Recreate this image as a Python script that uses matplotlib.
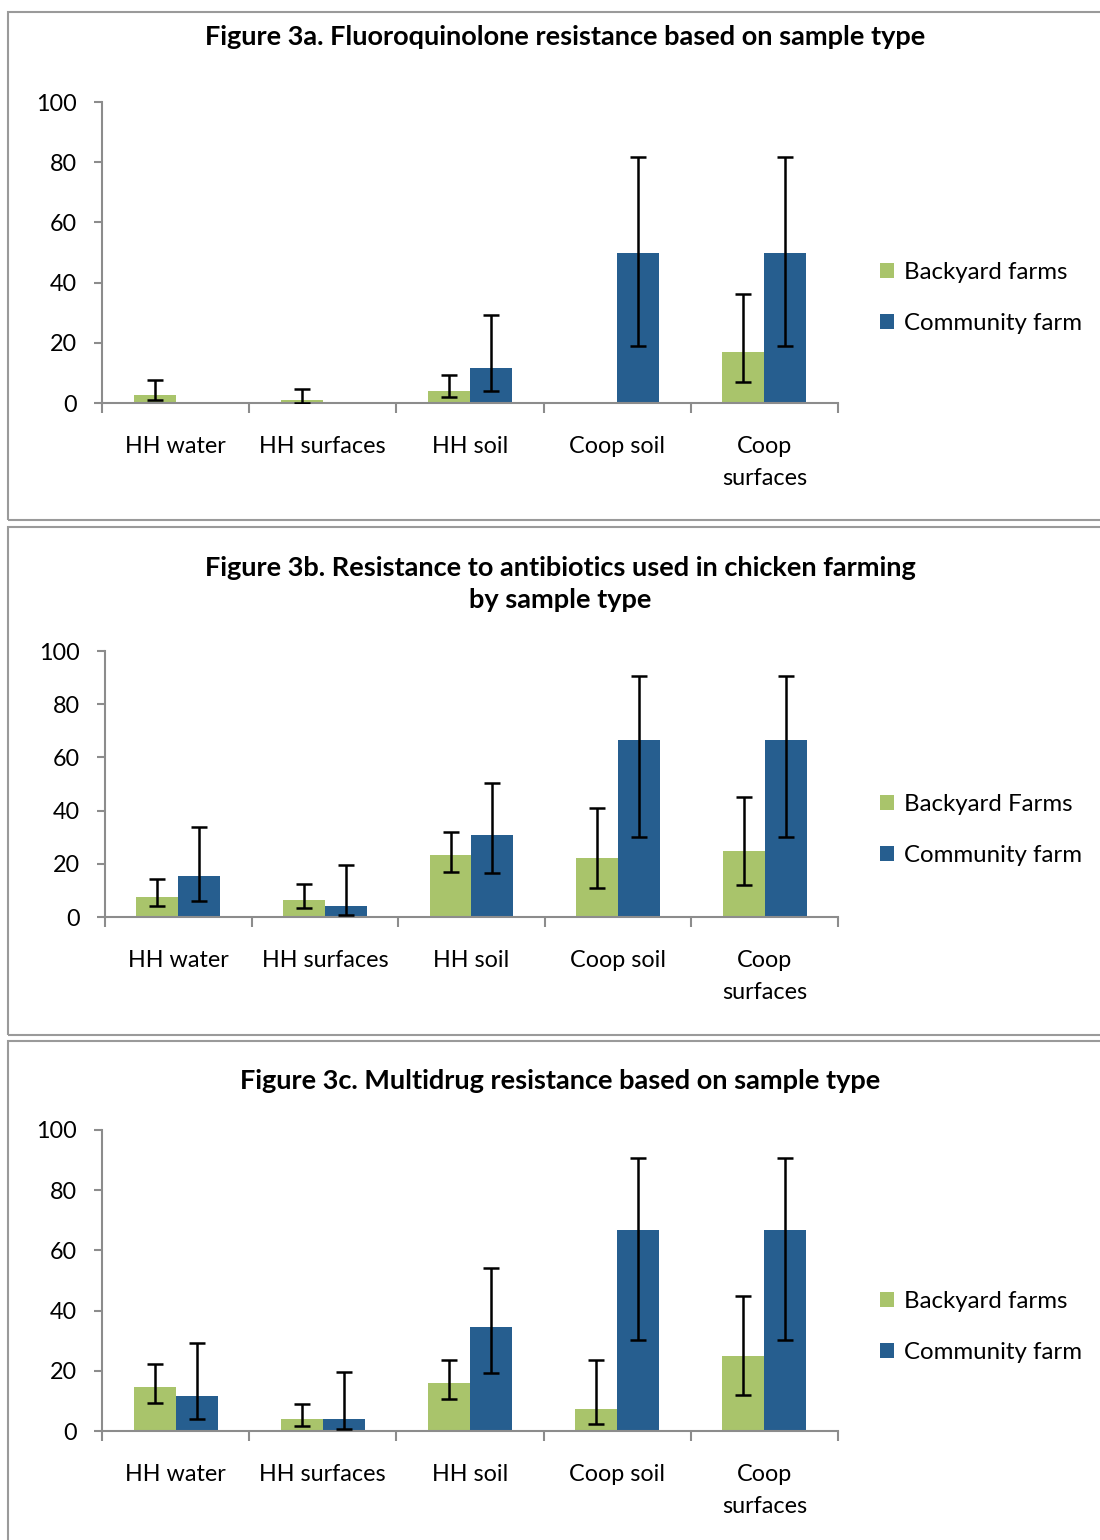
import numpy as np
import matplotlib
matplotlib.use("Agg")
import matplotlib.pyplot as plt
from matplotlib.patches import Rectangle

plt.rcParams['font.family'] = ['Lato', 'DejaVu Sans']

categories = ["HH water", "HH surfaces", "HH soil", "Coop soil", "Coop\nsurfaces"]

# Figure 3a - fluoroquinolone
a_backyard = [2.7, 0.9, 4.0, 0.0, 16.9]
a_backyard_lo = [1.0, 0.0, 1.9, np.nan, 7.0]
a_backyard_hi = [7.6, 4.6, 9.3, np.nan, 36.2]
a_community = [0.0, 0.0, 11.5, 50.0, 50.0]
a_community_lo = [np.nan, np.nan, 4.1, 18.9, 18.9]
a_community_hi = [np.nan, np.nan, 29.3, 81.6, 81.6]

# Figure 3b - chicken farming antibiotics
b_backyard = [7.6, 6.4, 23.3, 22.2, 24.8]
b_backyard_lo = [4.1, 3.3, 16.9, 10.9, 12.0]
b_backyard_hi = [14.3, 12.3, 31.8, 41.0, 45.1]
b_community = [15.4, 4.0, 30.8, 66.7, 66.7]
b_community_lo = [6.1, 0.8, 16.5, 30.0, 30.0]
b_community_hi = [33.7, 19.7, 50.3, 90.6, 90.6]

# Figure 3c - multidrug
c_backyard = [14.6, 3.9, 16.0, 7.3, 25.0]
c_backyard_lo = [9.3, 1.8, 10.7, 2.3, 12.0]
c_backyard_hi = [22.3, 9.1, 23.7, 23.6, 44.9]
c_community = [11.5, 3.9, 34.6, 66.7, 66.7]
c_community_lo = [4.0, 0.7, 19.4, 30.2, 30.2]
c_community_hi = [29.1, 19.6, 54.0, 90.7, 90.7]

green = "#A9C46B"
blue = "#265E8F"
grey = "#8C8C8C"

fig = plt.figure(figsize=(11, 15.4), dpi=100)

# panel border boxes (pixels, from top)
for top, bottom in [(12, 520), (527, 1035), (1041, 1545)]:
    fig.patches.append(Rectangle((8 / 1100, 1 - bottom / 1540), 1.2, (bottom - top) / 1540,
                                 transform=fig.transFigure, fill=False,
                                 edgecolor="#9A9A9A", linewidth=1.5))


def draw_panel(ax, by, by_lo, by_hi, cf, cf_lo, cf_hi, by_label):
    x = np.arange(len(categories))
    w = 0.286
    by = np.array(by)
    cf = np.array(cf)
    ax.bar(x - w / 2, by, w, color=green, label=by_label, zorder=2)
    ax.bar(x + w / 2, cf, w, color=blue, label="Community farm", zorder=2)
    for xs, vals, lo, hi in [(x - w / 2, by, by_lo, by_hi), (x + w / 2, cf, cf_lo, cf_hi)]:
        lo = np.array(lo)
        hi = np.array(hi)
        ok = ~np.isnan(lo)
        ax.errorbar(xs[ok], vals[ok], yerr=[vals[ok] - lo[ok], hi[ok] - vals[ok]],
                    fmt="none", ecolor="black", elinewidth=1.8, capsize=6, capthick=1.8, zorder=3)
    ax.set_xlim(-0.5, 4.5)
    ax.set_ylim(0, 100)
    ax.set_yticks(range(0, 101, 20))
    ax.set_xticks(x)
    ax.set_xticklabels(categories, fontsize=16.8, linespacing=1.6)
    ax.set_xticks(np.arange(-0.5, 5, 1), minor=True)
    ax.tick_params(axis="x", which="major", length=0, pad=24)
    ax.tick_params(axis="x", which="minor", length=7, width=1.5, color=grey)
    ax.tick_params(axis="y", length=6, width=1.5, color=grey, labelsize=16.8, pad=12)
    for s in ["top", "right"]:
        ax.spines[s].set_visible(False)
    for s in ["left", "bottom"]:
        ax.spines[s].set_color(grey)
        ax.spines[s].set_linewidth(1.5)


ax_a = fig.add_axes([102 / 1100, 1 - 403 / 1540, 736 / 1100, 301 / 1540])
draw_panel(ax_a, a_backyard, a_backyard_lo, a_backyard_hi,
           a_community, a_community_lo, a_community_hi, "Backyard farms")
ax_b = fig.add_axes([105 / 1100, 1 - 917 / 1540, 733 / 1100, 266 / 1540])
draw_panel(ax_b, b_backyard, b_backyard_lo, b_backyard_hi,
           b_community, b_community_lo, b_community_hi, "Backyard Farms")
ax_c = fig.add_axes([102 / 1100, 1 - 1431 / 1540, 736 / 1100, 301 / 1540])
draw_panel(ax_c, c_backyard, c_backyard_lo, c_backyard_hi,
           c_community, c_community_lo, c_community_hi, "Backyard farms")

for ax, ly in [(ax_a, 298), (ax_b, 830), (ax_c, 1327)]:
    ax.legend(loc="center left", bbox_to_anchor=(858 / 1100, 1 - ly / 1540),
              bbox_transform=fig.transFigure, frameon=False, fontsize=17.3,
              handlelength=0.6, handleheight=0.6, handletextpad=0.4, labelspacing=1.25)

fig.text(565 / 1100, 1 - 37 / 1540, "Figure 3a. Fluoroquinolone resistance based on sample type",
         ha="center", va="center", fontsize=19.5, fontweight="bold")
fig.text(560 / 1100, 1 - 584 / 1540, "Figure 3b. Resistance to antibiotics used in chicken farming\nby sample type",
         ha="center", va="center", fontsize=19.5, fontweight="bold", linespacing=1.45)
fig.text(560 / 1100, 1 - 1081 / 1540, "Figure 3c. Multidrug resistance based on sample type",
         ha="center", va="center", fontsize=19.5, fontweight="bold")

fig.savefig("out.png", dpi=100)
